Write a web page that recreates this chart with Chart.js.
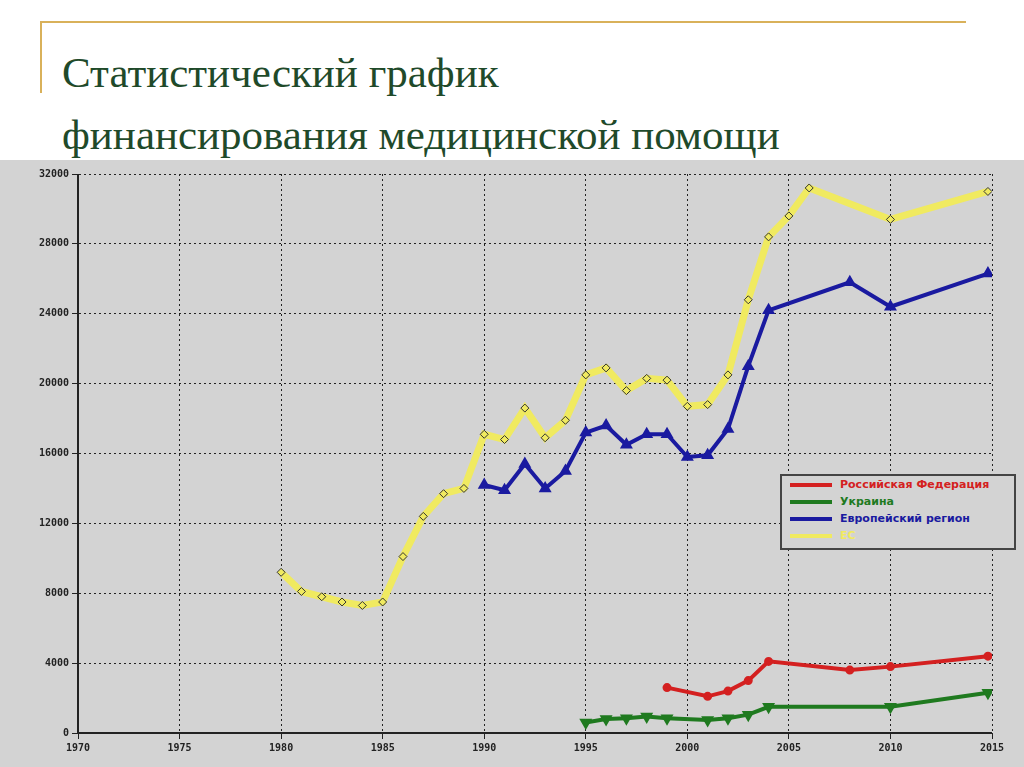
<!DOCTYPE html><html><head><meta charset="utf-8">
<script src="https://cdn.jsdelivr.net/npm/chart.js@4"></script>
<style>
body{margin:0;width:1024px;height:767px;background:#fff;position:relative;overflow:hidden;font-family:"Liberation Serif",serif}
#t{position:absolute;left:62px;top:42px;font-size:43px;line-height:62px;color:#1f4a2a}
#hl{position:absolute;left:40px;top:21px;width:926px;height:2px;background:#d9b15a}
#vl{position:absolute;left:40px;top:21px;width:2px;height:72px;background:#d9b15a}
#wrap{position:absolute;left:0;top:160px;width:1024px;height:607px;background:#d3d3d3}
#lg{position:absolute;left:780px;top:474px;width:232px;height:72px;border:2px solid #444;background:#d3d3d3;font:bold 11px "DejaVu Sans",sans-serif}
#lg div{height:17px;display:flex;align-items:center;padding-left:8px}
#lg span.s{display:inline-block;width:42px;height:4px;margin-right:8px}
</style></head><body>
<div id="hl"></div><div id="vl"></div>
<div id="t">Статистический график<br>финансирования медицинской помощи</div>
<div id="wrap"><canvas id="c"></canvas></div>
<div id="lg"></div>
<script>
const names=["Российская Федерация","Украина","Европейский регион","ЕС"];
const colors=["#d42020","#1f7a1f","#1a1aa0","#f0ea60"];
const ruX=[1999,2001,2002,2003,2004,2008,2010,2014.8];
const ruY=[2600,2100,2400,3000,4100,3600,3800,4400];
const uaX=[1995,1996,1997,1998,1999,2001,2002,2003,2004,2010,2014.8];
const uaY=[600,800,850,950,850,750,850,1050,1500,1500,2300];
const euX=[1990,1991,1992,1993,1994,1995,1996,1997,1998,1999,2000,2001,2002,2003,2004,2008,2010,2014.8];
const euY=[14200,13900,15400,14000,15000,17200,17600,16500,17100,17100,15800,15900,17400,21000,24200,25800,24400,26300];
const esX=[1980,1981,1982,1983,1984,1985,1986,1987,1988,1989,1990,1991,1992,1993,1994,1995,1996,1997,1998,1999,2000,2001,2002,2003,2004,2005,2006,2010,2014.8];
const esY=[9200,8100,7800,7500,7300,7500,10100,12400,13700,14000,17100,16800,18600,16900,17900,20500,20900,19600,20300,20200,18700,18800,20500,24800,28400,29600,31200,29400,31000];
const xTicks=[1970,1975,1980,1985,1990,1995,2000,2005,2010,2015];
const yTicks=[0,4000,8000,12000,16000,20000,24000,28000,32000];
const pts=(xs,ys)=>xs.map((x,i)=>({x,y:ys[i]}));
const lg=document.getElementById('lg');
names.forEach((n,i)=>{lg.innerHTML+=`<div style="color:${i==3?'#f0ea60':colors[i]}"><span class="s" style="background:${colors[i]}"></span>${n}</div>`;});
const c=document.getElementById('c');c.width=1024;c.height=607;
const fnt={family:'DejaVu Sans Mono',weight:'bold',size:10};
new Chart(c,{type:'line',data:{datasets:[
{label:names[0],data:pts(ruX,ruY),borderColor:colors[0],backgroundColor:colors[0],borderWidth:4,pointRadius:2.5,pointStyle:'circle'},
{label:names[1],data:pts(uaX,uaY),borderColor:colors[1],backgroundColor:colors[1],borderWidth:4,pointRadius:3.5,pointStyle:'triangle',rotation:180},
{label:names[2],data:pts(euX,euY),borderColor:colors[2],backgroundColor:colors[2],borderWidth:4,pointRadius:3.5,pointStyle:'triangle'},
{label:names[3],data:pts(esX,esY),borderColor:colors[3],backgroundColor:'#f0ea60',pointBorderColor:'#333',pointBorderWidth:1,borderWidth:7,pointRadius:4,pointStyle:'rectRot'}
]},options:{responsive:false,animation:false,layout:{padding:{top:14,right:32}},
plugins:{legend:{display:false},tooltip:{enabled:false}},
scales:{x:{type:'linear',min:1970,max:2015,afterFit:a=>{a.height=34},afterBuildTicks:a=>{a.ticks=xTicks.map(v=>({value:v}))},
grid:{color:'#222',lineWidth:1,tickLength:6,tickColor:'#222'},border:{dash:[2,3],color:'#222'},
ticks:{color:'#222',font:fnt,maxRotation:0,callback:v=>String(v)}},
y:{min:0,max:32000,afterFit:a=>{a.width=78},afterBuildTicks:a=>{a.ticks=yTicks.map(v=>({value:v}))},
grid:{color:'#222',lineWidth:1,tickLength:6},border:{color:'#222',dash:[2,3]},
ticks:{color:'#222',font:fnt,callback:v=>String(v)}}}},
plugins:[{id:'axes',afterDraw(ch){const {ctx,chartArea:a}=ch;ctx.save();ctx.strokeStyle='#222';ctx.lineWidth=2;ctx.beginPath();ctx.moveTo(a.left,a.top);ctx.lineTo(a.left,a.bottom);ctx.lineTo(a.right,a.bottom);ctx.stroke();ctx.restore();}}]});
</script></body></html>
